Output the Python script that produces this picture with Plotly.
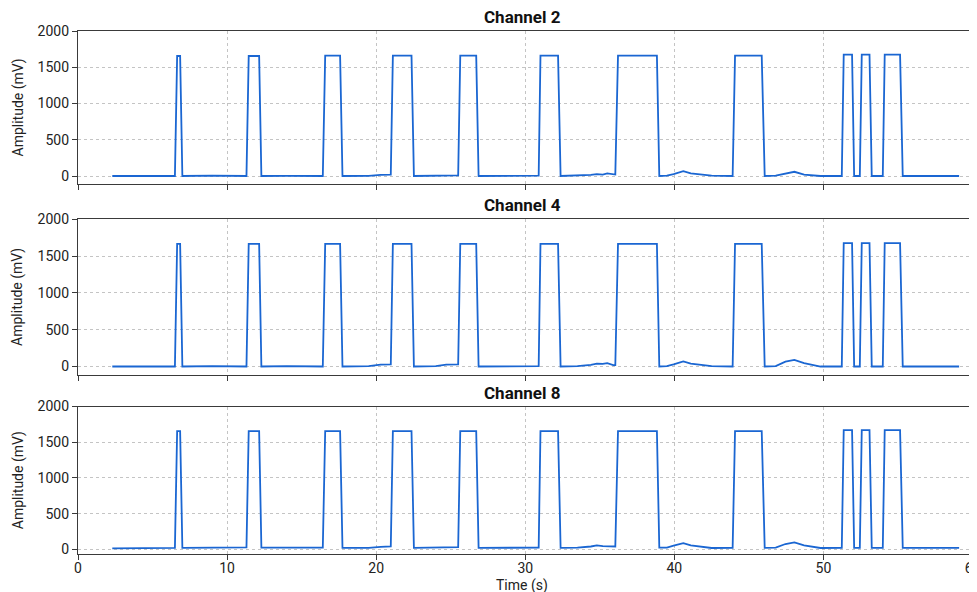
import plotly.graph_objects as go

# Shared time base (s)
time_s = [
    2.3, 6.5, 6.65, 6.85, 7.0,
    9.0, 11.3, 11.45, 12.15, 12.3,
    14.0, 16.42, 16.58, 17.58, 17.74,
    19.5, 20.3, 20.7, 20.98, 21.12, 22.37, 22.53,
    24.0, 24.7, 25.3, 25.5, 25.64, 26.71, 26.87,
    29.0, 30.9, 31.02, 32.2, 32.37,
    33.5, 34.4, 34.8, 35.2, 35.5, 35.9, 36.04, 36.22, 38.83, 38.99,
    39.5, 39.95, 40.6, 41.1, 41.3, 41.6, 42.5, 43.91, 44.07, 45.86, 46.06,
    46.8, 47.45, 48.05, 48.7, 49.8, 51.23, 51.36, 51.92, 52.06,
    52.3, 52.44, 52.57, 53.09, 53.24,
    53.85, 53.98, 54.11, 55.14, 55.32, 59.1,
]

ch2_mv = [
    0, 0, 1655, 1655, 0,
    5, 0, 1655, 1655, 0,
    3, 0, 1660, 1660, 0,
    3, 15, 20, 20, 1660, 1660, 0,
    3, 8, 12, 10, 1660, 1660, 0,
    2, 5, 1660, 1660, 0,
    5, 15, 27, 20, 36, 20, 20, 1660, 1660, 0,
    5, 27, 68, 35, 30, 27, 5, 0, 1660, 1660, 0,
    5, 36, 58, 18, 0, 0, 1675, 1675, 0,
    0, 0, 1675, 1675, 0,
    0, 0, 1675, 1675, 0, 0,
]

ch4_mv = [
    0, 0, 1665, 1665, 0,
    5, 0, 1665, 1665, 0,
    5, 0, 1665, 1665, 0,
    5, 25, 30, 30, 1665, 1665, 0,
    5, 25, 35, 30, 1665, 1665, 0,
    5, 5, 1665, 1665, 0,
    5, 22, 40, 35, 45, 20, 20, 1665, 1665, 0,
    5, 30, 70, 40, 35, 30, 5, 0, 1665, 1665, 0,
    5, 67, 89, 45, 0, 0, 1676, 1676, 0,
    0, 0, 1676, 1676, 0,
    0, 0, 1676, 1676, 0, 0,
]

ch8_mv = [
    15, 20, 1655, 1655, 20,
    28, 28, 1655, 1655, 25,
    25, 25, 1655, 1655, 20,
    20, 35, 42, 42, 1655, 1655, 20,
    20, 25, 30, 30, 1655, 1655, 20,
    25, 25, 1655, 1655, 20,
    25, 40, 56, 45, 42, 40, 40, 1655, 1655, 25,
    25, 51, 88, 55, 50, 50, 19, 20, 1655, 1655, 20,
    25, 75, 98, 56, 19, 20, 1668, 1668, 20,
    20, 20, 1668, 1668, 20,
    20, 20, 1668, 1668, 20, 20,
]

channel_titles = ["Channel 2", "Channel 4", "Channel 8"]
series = [ch2_mv, ch4_mv, ch8_mv]
x_ticks = [0, 10, 20, 30, 40, 50, 60]
y_ticks = [0, 500, 1000, 1500, 2000]

LINE = "#1a66d2"
AX = "#3a3a3a"
GRID = "#c4c4c4"
FONT = "Roboto"
TXT = "#222222"

# page body adds an 8px offset; margins compensate so the plot lands where the reference has it
domains = [[0.7075, 1.0], [0.343, 0.640], [0.0, 0.282]]
y_ranges = [[-110, 2000], [-110, 2000], [-65, 2000]]

fig = go.Figure()
for i, (vals, title) in enumerate(zip(series, channel_titles)):
    n = "" if i == 0 else str(i + 1)
    fig.add_trace(go.Scatter(
        x=time_s, y=vals, mode="lines",
        line=dict(color=LINE, width=1.8),
        xaxis="x" + n, yaxis="y" + n, showlegend=False,
    ))
    xa = dict(
        domain=[0, 1], anchor="y" + n, range=[0, 60.3], automargin=False,
        tickvals=x_ticks, showgrid=True, gridcolor=GRID, griddash="3px,3px", gridwidth=1,
        showline=True, linecolor=AX, linewidth=1.3, mirror=True,
        ticks="outside", ticklen=5, tickcolor=AX, tickwidth=1.2,
        showticklabels=(i == 2), zeroline=False,
        tickfont=dict(family=FONT, size=14, color=TXT),
    )
    if i == 2:
        xa["ticklabelstandoff"] = -4
    if i > 0:
        xa["matches"] = "x"
    ya = dict(
        domain=domains[i], anchor="x" + n, range=y_ranges[i], automargin=False,
        tickvals=y_ticks, showgrid=True, gridcolor=GRID, griddash="3px,3px", gridwidth=1,
        showline=True, linecolor=AX, linewidth=1.3,
        ticks="outside", ticklen=5, tickcolor=AX, tickwidth=1.2, zeroline=False,
        tickfont=dict(family=FONT, size=14, color=TXT),
    )
    fig.layout["xaxis" + n] = xa
    fig.layout["yaxis" + n] = ya
    fig.add_annotation(
        text="<b>" + title + "</b>", xref="x" + n + " domain", yref="y" + n + " domain",
        x=0.494, y=1, yanchor="middle", yshift=14, showarrow=False,
        font=dict(family=FONT, size=17, color="#111"),
    )
    fig.add_annotation(
        text="Amplitude (mV)", xref="paper", yref="y" + n + " domain",
        x=0, xshift=-60, y=0.5, xanchor="center", yanchor="middle", textangle=-90,
        showarrow=False, font=dict(family=FONT, size=14, color=TXT),
    )

fig.add_annotation(
    text="Time (s)", xref="x3 domain", yref="paper", x=0.494, y=0, yshift=-31,
    xanchor="center", yanchor="middle", showarrow=False,
    font=dict(family=FONT, size=14, color=TXT),
)

fig.update_layout(
    width=977, height=592,
    margin=dict(l=70, r=8, t=23, b=46, autoexpand=False),
    paper_bgcolor="white", plot_bgcolor="white",
    font=dict(family=FONT),
)

fig.write_html("out.html")
